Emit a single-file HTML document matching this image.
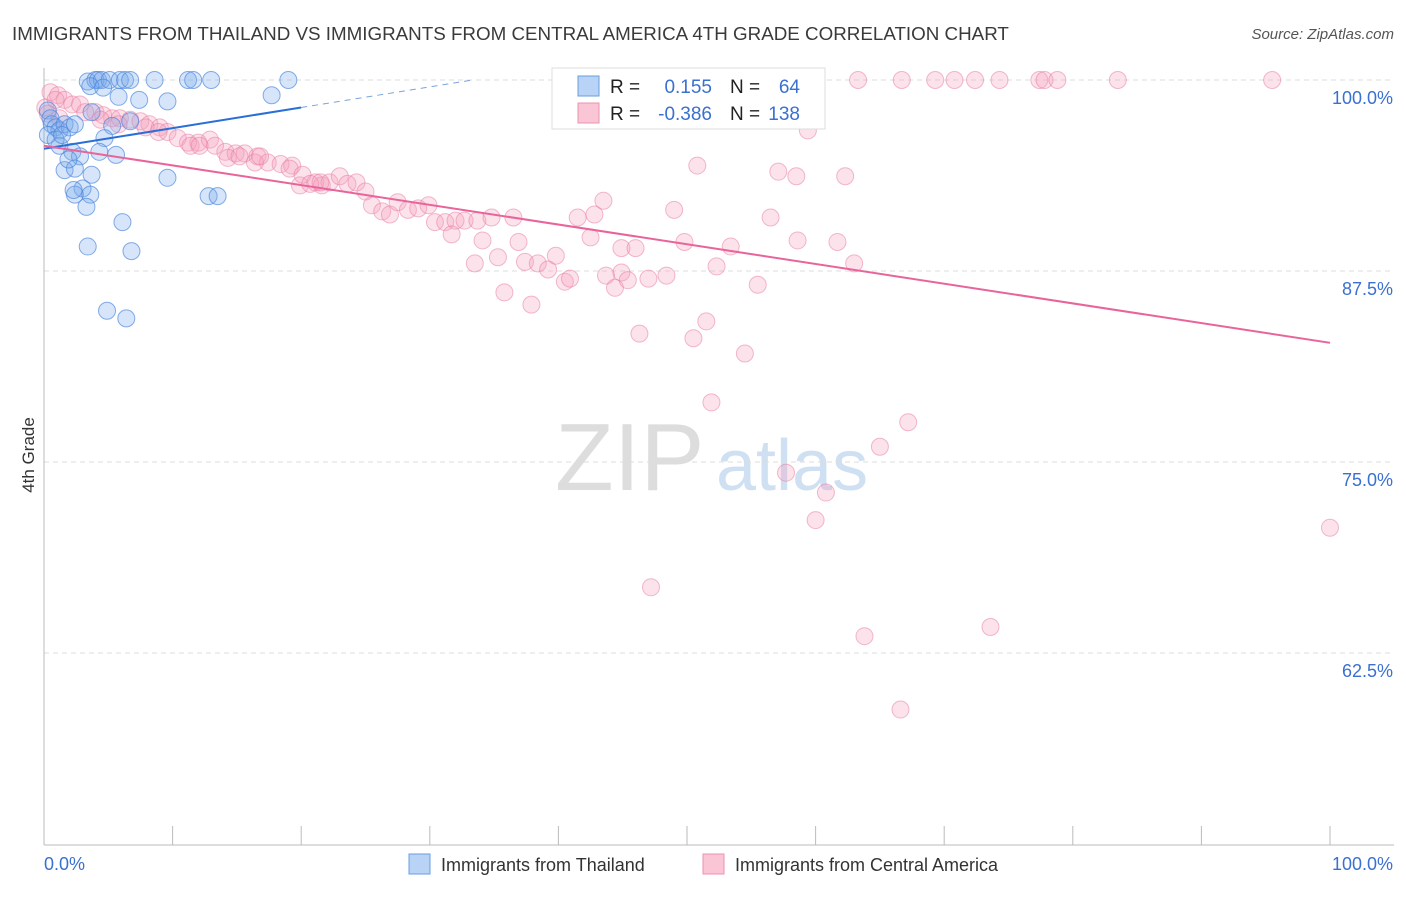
<!DOCTYPE html>
<html><head><meta charset="utf-8"><style>
body{margin:0;background:#fff;font-family:"Liberation Sans",sans-serif}
svg text{font-family:"Liberation Sans",sans-serif}
</style></head><body>
<svg id="chart" width="1406" height="892" viewBox="0 0 1406 892">
<text x="12" y="40" font-size="18.8" fill="#3a3a3a">IMMIGRANTS FROM THAILAND VS IMMIGRANTS FROM CENTRAL AMERICA 4TH GRADE CORRELATION CHART</text>
<text x="1394" y="39" font-size="15" fill="#555" font-style="italic" text-anchor="end">Source: ZipAtlas.com</text>
<g>
<text x="555" y="490" font-size="96" fill="#ddd" font-family="Liberation Serif">ZIP</text>
<text x="716" y="490" font-size="72" fill="#cfe0f3">atlas</text>
</g>
<g id="grid"></g>
<g id="axes"></g>
<g id="pts"></g>
<g id="trends"></g>
<text transform="translate(34,455) rotate(-90)" font-size="17" fill="#333" text-anchor="middle">4th Grade</text>
<g>
<rect x="552" y="68" width="273" height="61" fill="#fff" stroke="#ddd"/>
<rect x="578" y="76" width="21" height="20" fill="#b8d3f5" stroke="#6a9de0"/>
<rect x="578" y="103" width="21" height="20" fill="#fac5d5" stroke="#eb93b0"/>
<text x="610" y="93" font-size="19" fill="#222">R =</text>
<text x="712" y="93" font-size="19" fill="#3a70d0" text-anchor="end">0.155</text>
<text x="730" y="93" font-size="19" fill="#222">N =</text>
<text x="800" y="93" font-size="19" fill="#3a70d0" text-anchor="end">64</text>
<text x="610" y="120" font-size="19" fill="#222">R =</text>
<text x="712" y="120" font-size="19" fill="#3a70d0" text-anchor="end">-0.386</text>
<text x="730" y="120" font-size="19" fill="#222">N =</text>
<text x="800" y="120" font-size="19" fill="#3a70d0" text-anchor="end">138</text>
</g>
<g>
<rect x="409" y="854" width="21" height="20" fill="#b8d3f5" stroke="#6a9de0"/>
<text x="441" y="871" font-size="18" fill="#333">Immigrants from Thailand</text>
<rect x="703" y="854" width="21" height="20" fill="#fac5d5" stroke="#eb93b0"/>
<text x="735" y="871" font-size="18" fill="#333">Immigrants from Central America</text>
</g>
</svg>
<script>
const yTicks=[100,87.5,75,62.5];
const yTickLabels=["100.0%","87.5%","75.0%","62.5%"];
const xTickLabels=["0.0%","100.0%"];
const blueX=[3.4,4.0,4.2,4.5,5.1,5.9,6.3,6.7,8.6,11.2,11.6,13.0,19.0,3.6,4.6,5.8,7.4,9.6,17.7,0.3,0.5,0.6,0.9,1.2,1.6,2.0,2.4,3.7,5.3,6.7,4.7,1.2,2.2,2.8,4.3,5.6,1.6,2.4,3.7,3.0,2.4,3.6,3.3,9.6,12.8,13.5,6.1,3.4,6.8,4.9,6.4,0.3,0.9,1.4,1.9,2.3];
const blueY=[99.9,100,100,100,100,100,100,100,100,100,100,100,100,99.6,99.5,98.9,98.7,98.6,99.0,98.0,97.5,97.1,96.9,96.7,97.1,96.9,97.1,97.9,97.0,97.3,96.2,95.7,95.3,95.0,95.3,95.1,94.1,94.2,93.8,92.9,92.5,92.5,91.7,93.6,92.4,92.4,90.7,89.1,88.8,84.9,84.4,96.4,96.1,96.4,94.8,92.8];
const pinkX=[47.5,48.1,51.0,54.5,63.3,66.7,69.3,70.8,72.4,74.3,77.4,77.8,78.8,83.5,95.5,
0.5,1.1,1.6,2.2,2.8,4.0,4.6,5.3,5.9,6.7,7.5,8.2,9.0,9.6,10.4,11.2,12.0,12.9,13.3,14.1,14.9,15.6,16.6,17.4,18.4,19.3,19.9,21.1,21.6,22.2,23.0,23.6,24.3,25.0,25.5,26.3,26.9,27.5,28.3,29.1,29.9,30.4,31.2,32.0,32.7,33.7,34.8,36.5,31.7,34.1,36.9,33.5,35.3,37.4,38.4,39.2,39.8,40.5,40.9,41.5,42.5,42.8,43.5,43.7,44.4,44.9,45.4,47.0,48.4,44.9,46.0,49.0,49.8,50.8,52.3,53.4,55.5,56.5,57.1,58.5,58.6,59.4,61.7,62.3,63.0,35.8,37.9,46.3,50.5,51.5,54.5,51.9,67.2,65.0,57.7,60.8,60.0,100,47.2,63.8,73.6,66.6,
0.1,0.3,0.9,1.2,3.2,4.4,5.8,7.9,8.9,11.4,12.1,14.3,15.2,16.4,16.8,19.1,20.1,20.7,21.5];
const pinkY=[100,100,100,100,100,100,100,100,100,100,100,100,100,100,100,
99.2,99.0,98.7,98.4,98.4,97.9,97.7,97.5,97.5,97.4,97.3,97.1,96.9,96.6,96.2,95.9,95.9,96.1,95.7,95.3,95.2,95.2,95.0,94.6,94.5,94.4,93.1,93.3,93.1,93.3,93.7,93.2,93.3,92.7,91.8,91.4,91.2,92.0,91.5,91.6,91.8,90.7,90.7,90.8,90.8,90.8,91.0,91.0,89.9,89.5,89.4,88.0,88.4,88.1,88.0,87.6,88.5,86.8,87.0,91.0,89.7,91.2,92.1,87.2,86.4,87.4,86.9,87.0,87.2,89.0,89.0,91.5,89.4,94.4,87.8,89.1,86.6,91.0,94.0,93.7,89.5,96.7,89.4,93.7,88.0,86.1,85.3,83.4,83.1,84.2,82.1,78.9,77.6,76.0,74.3,73.0,71.2,70.7,66.8,63.6,64.2,58.8,
98.2,97.8,98.7,97.5,97.9,97.4,97.1,96.9,96.6,95.7,95.7,94.9,95.0,94.6,95.0,94.2,93.8,93.2,93.3];
const blueTrend=[95.5,0.135];
const pinkTrend=[95.7,-0.129];

const NS="http://www.w3.org/2000/svg";
const X0=44,X1=1330,Y100=80,PX=15.28;
const sx=v=>X0+(X1-X0)*v/100;
const sy=v=>Y100+(100-v)*PX;
function mk(tag,attrs,parent){const e=document.createElementNS(NS,tag);for(const k in attrs)e.setAttribute(k,attrs[k]);document.getElementById(parent).appendChild(e);return e;}

yTicks.forEach((t,i)=>{
 const g=mk('line',{x1:X0,x2:1394,y1:sy(t),y2:sy(t),stroke:'#ddd','stroke-dasharray':'5,4'},'grid');
 
 
 const l=mk('text',{x:1393,y:sy(t)+24,'font-size':18,fill:'#3a70d0','text-anchor':'end'},'axes');
 l.textContent=yTickLabels[i];
 
 
});
const ya=mk('line',{x1:X0,x2:X0,y1:68,y2:845,stroke:'#bbb'},'axes');


const xa=mk('line',{x1:X0,x2:1394,y1:845,y2:845,stroke:'#bbb'},'axes');


for(let i=0;i<=10;i++){
 const t=mk('line',{x1:sx(i*10),x2:sx(i*10),y1:826,y2:845,stroke:'#bbb'},'axes');
 
 
}
const xl0=mk('text',{x:44,y:870,'font-size':18,fill:'#3a70d0'},'axes');xl0.textContent=xTickLabels[0];


const xl1=mk('text',{x:1393,y:870,'font-size':18,fill:'#3a70d0','text-anchor':'end'},'axes');xl1.textContent=xTickLabels[1];



pinkX.forEach((x,i)=>{
 const c=mk('circle',{cx:sx(x),cy:sy(pinkY[i]),r:8.5,fill:'rgba(246,160,188,0.3)',stroke:'rgba(232,120,160,0.5)','stroke-width':1},'pts');
 
 
});
blueX.forEach((x,i)=>{
 const c=mk('circle',{cx:sx(x),cy:sy(blueY[i]),r:8.5,fill:'rgba(120,170,235,0.3)',stroke:'rgba(70,130,220,0.65)','stroke-width':1},'pts');
 
 
});
const bl=mk('line',{x1:sx(0),y1:sy(blueTrend[0]),x2:sx(20),y2:sy(blueTrend[0]+blueTrend[1]*20),stroke:'#2a6fd6','stroke-width':2},'trends');


const xe=(100-blueTrend[0])/blueTrend[1];
const bd=mk('line',{x1:sx(20),y1:sy(blueTrend[0]+blueTrend[1]*20),x2:sx(xe),y2:sy(100),stroke:'#7aa3e0','stroke-width':1,'stroke-dasharray':'6,5'},'trends');


const pl=mk('line',{x1:sx(0),y1:sy(pinkTrend[0]),x2:sx(100),y2:sy(pinkTrend[0]+pinkTrend[1]*100),stroke:'#e8649a','stroke-width':2},'trends');


</script>
</body></html>
